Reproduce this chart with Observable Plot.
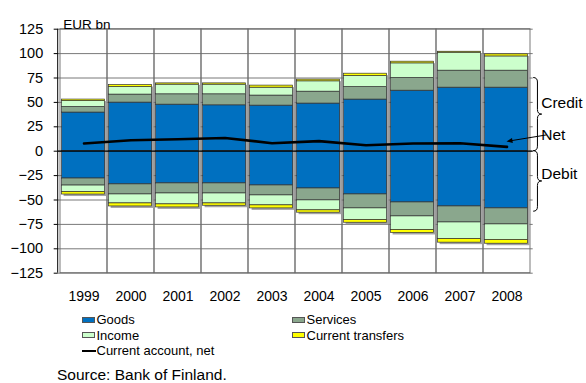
<!DOCTYPE html>
<html>
<head>
<meta charset="utf-8">
<script src="https://cdn.jsdelivr.net/npm/d3@7"></script>
<script src="https://cdn.jsdelivr.net/npm/@observablehq/plot@0.6"></script>
<style>
  html, body { margin: 0; padding: 0; background: #fff; }
  #wrap { position: relative; width: 586px; height: 383px; overflow: hidden;
          font-family: "Liberation Sans", Arial, sans-serif; color: #000; }
  #wrap svg { position: absolute; left: 0; top: 0; overflow: visible; }
  .leg { position: absolute; font-size: 13px; line-height: 15px; white-space: nowrap; }
  .sw { position: absolute; width: 13px; height: 6px; border: 1px solid #555; box-sizing: border-box; }
  .ln { position: absolute; width: 14px; height: 2px; background: #000; }
  #source { position: absolute; left: 57px; top: 367px; font-size: 15.5px; line-height: 15px; white-space: nowrap; }
</style>
</head>
<body>
<div id="wrap"></div>
<script>
// Finland's current account, EUR bn: credit items stacked up, debit items stacked down
const years = ["1999", "2000", "2001", "2002", "2003", "2004", "2005", "2006", "2007", "2008"];
const components = ["Goods", "Services", "Income", "Current transfers"];
const componentColors = ["#0070C0", "#8AA78D", "#CCFFCC", "#FFFF00"];

const creditGoods     = [39.6, 49.8, 47.7, 47.0, 46.7, 48.8, 52.9, 62.0, 65.1, 65.1];
const creditServices  = [5.7, 8.2, 10.6, 11.3, 10.3, 12.2, 12.8, 13.0, 17.4, 17.4];
const creditIncome    = [6.1, 7.7, 9.9, 9.9, 8.1, 10.6, 11.3, 15.0, 18.4, 14.6];
const creditTransfers = [1.5, 2.1, 1.3, 1.3, 2.1, 1.7, 2.4, 1.7, 1.0, 2.1];

const debitGoods      = [28.0, 34.0, 33.0, 33.0, 35.1, 38.2, 44.3, 52.5, 56.6, 58.6];
const debitServices   = [7.2, 10.3, 10.3, 10.3, 10.2, 12.2, 14.3, 14.3, 16.4, 16.4];
const debitIncome     = [6.8, 9.2, 11.2, 10.2, 10.2, 10.2, 12.0, 14.0, 17.0, 16.0];
const debitTransfers  = [2.4, 3.1, 3.1, 2.4, 3.1, 2.4, 2.7, 3.0, 3.7, 3.8];

const netBalance      = [7.9, 11.2, 12.3, 13.6, 8.2, 10.3, 6.1, 7.9, 8.2, 4.4];

const yTicks = [-125, -100, -75, -50, -25, 0, 25, 50, 75, 100, 125];

// Brace annotations on the right edge (value extents) and the arrow to the net line
const braces = [
  {label: "Credit", from: 0, to: 75},
  {label: "Debit", from: 0, to: -62}
];
const sideLabels = [
  {label: "Credit", y: 49},
  {label: "Net", y: 16.4},
  {label: "Debit", y: -23.5}
];
const netArrow = {fromY: 16.2, toYear: "2008", toY: 9.5};

// Long-format rows; credit values positive, debit values negative
const credit = [creditGoods, creditServices, creditIncome, creditTransfers];
const debit = [debitGoods, debitServices, debitIncome, debitTransfers];
const rows = [];
components.forEach((c, k) => {
  years.forEach((year, i) => {
    rows.push({year, component: c, value: credit[k][i]});
    rows.push({year, component: c, value: -debit[k][i]});
  });
});
const totals = years.map((year, i) => ({
  year,
  top: d3.sum(credit, s => s[i]),
  bottom: -d3.sum(debit, s => s[i])
}));
const net = years.map((year, i) => ({year, value: netBalance[i]}));

const barInset = {insetLeft: 1.6, insetRight: 2.4};

const chart = Plot.plot({
  width: 586,
  height: 300,
  marginTop: 28.7,
  marginBottom: 27.3,
  marginLeft: 57.7,
  marginRight: 53.3,
  style: {fontFamily: "'Liberation Sans', Arial, sans-serif", color: "#000", background: "transparent"},
  x: {type: "band", domain: years, padding: 0, label: null},
  y: {domain: [-125, 125], label: null},
  color: {domain: components, range: componentColors},
  marks: [
    // grid: horizontal rules and category cells
    Plot.ruleY(yTicks, {stroke: "#6a6a6a", strokeWidth: 0.9}),
    Plot.barY(years, {x: d => d, y1: -125, y2: 125, fill: "none", stroke: "#6a6a6a", strokeWidth: 0.9}),
    // drop shadow behind each column
    Plot.barY(totals, {x: "year", y1: "bottom", y2: "top", fill: "#a3a3a3", dx: 2, dy: 2, ...barInset}),
    // stacked credit / debit components
    Plot.barY(rows, Plot.stackY({
      x: "year", y: "value", z: "component", fill: "component",
      stroke: "#333", strokeWidth: 0.7, ...barInset
    })),
    Plot.ruleY([0], {stroke: "#000", strokeWidth: 1.2}),
    Plot.lineY(net, {x: "year", y: "value", stroke: "#000", strokeWidth: 2.6}),
    Plot.axisY({ticks: yTicks, tickSize: 4, tickPadding: 11, fontSize: 14.5, stroke: "#000", label: null}),
    Plot.axisX({tickSize: 0, tickPadding: 18, fontSize: 14, label: null}),
    Plot.text(["EUR bn"], {frameAnchor: "top-left", dx: 5, dy: -10, text: d => d,
      textAnchor: "start", fontSize: 13.5}),
    Plot.text(sideLabels, {frameAnchor: "right", y: "y", text: "label", textAnchor: "start",
      dx: 8, fontSize: 15.5})
  ]
});

document.getElementById("wrap").appendChild(chart);

// Braces and the "Net" pointer, placed through the plot's own scales
{
  const sx = chart.scale("x");
  const sy = chart.scale("y");
  const right = 586 - 53.3;
  const svg = d3.select(chart);
  // darker left axis line over the grid
  svg.append("line").attr("x1", 57.7).attr("x2", 57.7)
    .attr("y1", sy.apply(125)).attr("y2", sy.apply(-125))
    .attr("stroke", "#000").attr("stroke-width", 1);
  const g = svg.append("g").attr("fill", "none").attr("stroke", "#000").attr("stroke-width", 1);
  const w = 8.5, r = 4.5, h = w / 2;
  for (const b of braces) {
    const a = sy.apply(b.from), c = sy.apply(b.to);
    const top = Math.min(a, c), bot = Math.max(a, c), mid = (top + bot) / 2;
    const x0 = right + 0.5;
    g.append("path").attr("d",
      `M${x0},${top} Q${x0 + h},${top} ${x0 + h},${top + r} L${x0 + h},${mid - r} ` +
      `Q${x0 + h},${mid} ${x0 + w},${mid} Q${x0 + h},${mid} ${x0 + h},${mid + r} ` +
      `L${x0 + h},${bot - r} Q${x0 + h},${bot} ${x0},${bot}`);
  }
  const x1 = right + 14, y1 = sy.apply(netArrow.fromY);
  const x2 = sx.apply(netArrow.toYear) + sx.bandwidth / 2, y2 = sy.apply(netArrow.toY);
  const ang = Math.atan2(y2 - y1, x2 - x1);
  g.append("line").attr("x1", x1).attr("y1", y1)
    .attr("x2", x2 - 5 * Math.cos(ang)).attr("y2", y2 - 5 * Math.sin(ang));
  const L = 6, W = 2.6;
  const bx = x2 - L * Math.cos(ang), by = y2 - L * Math.sin(ang);
  g.append("path").attr("fill", "#000").attr("stroke", "none").attr("d",
    `M${x2},${y2} L${bx + W * Math.sin(ang)},${by - W * Math.cos(ang)} ` +
    `L${bx - W * Math.sin(ang)},${by + W * Math.cos(ang)} Z`);
}

// Legend and source line
const wrap = document.getElementById("wrap");
const legendItems = [
  {label: "Goods", color: componentColors[0], left: 82, top: 312},
  {label: "Services", color: componentColors[1], left: 292, top: 312},
  {label: "Income", color: componentColors[2], left: 82, top: 327.5},
  {label: "Current transfers", color: componentColors[3], left: 292, top: 327.5},
  {label: "Current account, net", line: true, left: 82, top: 343}
];
for (const item of legendItems) {
  const el = document.createElement("div");
  el.className = "leg";
  el.style.left = item.left + "px";
  el.style.top = item.top + "px";
  const mark = document.createElement("div");
  if (item.line) {
    mark.className = "ln";
    mark.style.left = "0px";
    mark.style.top = "7px";
  } else {
    mark.className = "sw";
    mark.style.left = "0px";
    mark.style.top = "4.5px";
    mark.style.background = item.color;
  }
  el.appendChild(mark);
  const t = document.createElement("span");
  t.style.marginLeft = "14.5px";
  t.textContent = item.label;
  el.appendChild(t);
  wrap.appendChild(el);
}
const src = document.createElement("div");
src.id = "source";
src.textContent = "Source: Bank of Finland.";
wrap.appendChild(src);
</script>
</body>
</html>
